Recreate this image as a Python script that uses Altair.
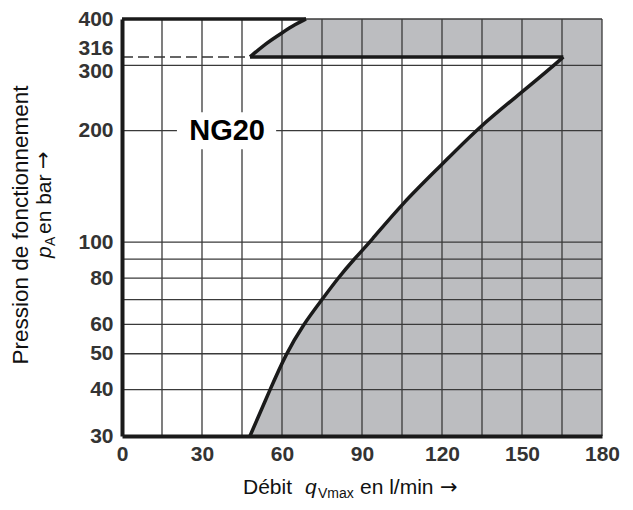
import altair as alt
import pandas as pd

# ---- data ----
q_lower = [48, 55.5, 61.5, 68, 75, 81, 87, 93, 105, 120, 134, 150, 162, 165.5]
p_lower = [30, 40, 50, 60, 70, 80, 90, 100, 127, 162, 205, 254, 300, 316]

q_upper = [48, 54, 60, 65, 69]
p_upper = [316, 344, 367, 387, 400]

q_top = [0, 69]          # thick top edge at 400 bar
p_top = [400, 400]
q_316 = [48, 165.5]      # thick line at 316 bar
q_dash = [0, 48]         # dashed line at 316 bar
p_316 = 316

grid_q = [15, 30, 45, 60, 75, 90, 105, 120, 135, 150, 165, 180]
grid_p = [40, 50, 60, 70, 80, 90, 100, 200, 300, 400]
x_ticks = [0, 30, 60, 90, 120, 150, 180]
y_ticks = [30, 40, 50, 60, 80, 100, 200, 300, 316, 400]

label_text = "NG20"
label_q, label_p = 39.4, 200
box_q = [20.6, 57.8]
box_p = [178, 224]

# ---- styling ----
TICK_FONT = "Liberation Sans, Arial, sans-serif"
TITLE_FONT = "Liberation Sans, Arial, sans-serif"
ARROW_FONT = "DejaVu Sans, sans-serif"
INK = "#1a1a1a"
GRID = "#3a3a3a"
FILL = "#bcbdc0"
CURVE = "basis"

xs = alt.Scale(domain=[0, 180], nice=False, zero=False)
ys = alt.Scale(type="log", domain=[30, 400], nice=False)

xaxis = alt.Axis(values=x_ticks, title=None, grid=False, ticks=False,
                 domainColor=INK, domainWidth=4, labelFont=TICK_FONT,
                 labelFontSize=21, labelFontWeight="bold", labelColor="#333333",
                 labelPadding=7, labelFlush=False, labelOverlap=False, zindex=1)
yaxis = alt.Axis(values=y_ticks, title=None, grid=False, ticks=False,
                 domainColor=INK, domainWidth=4, labelFont=TICK_FONT,
                 labelFontSize=21, labelFontWeight="bold", labelColor="#333333",
                 labelPadding=9, labelOverlap=False, zindex=1,
                 labelExpr="'' + datum.value",
                 labelOffset={"expr": "datum.value == 316 ? -8 : (datum.value == 300 ? 6 : 0)"})

X = alt.X("q:Q", scale=xs, axis=xaxis)
Y = alt.Y("p:Q", scale=ys, axis=yaxis)

df_lower = pd.DataFrame({"q": q_lower, "p": p_lower, "i": range(len(q_lower))})
df_upper = pd.DataFrame({"q": q_upper, "p": p_upper, "i": range(len(q_upper))})

area_lower = alt.Chart(df_lower).mark_area(orient="horizontal", interpolate=CURVE,
                                            color=FILL).encode(y=Y, x=X, x2=alt.datum(180))
area_upper = alt.Chart(df_upper).mark_area(orient="horizontal", interpolate=CURVE,
                                            color=FILL).encode(y=Y, x=X, x2=alt.datum(180))

vgrid = alt.Chart(pd.DataFrame({"q": grid_q})).mark_rule(color=GRID, strokeWidth=1.3).encode(x=X)
hgrid = alt.Chart(pd.DataFrame({"p": grid_p})).mark_rule(color=GRID, strokeWidth=1.3).encode(y=Y)

box = alt.Chart(pd.DataFrame({"q": [box_q[0]], "q2": [box_q[1]], "p": [box_p[0]], "p2": [box_p[1]]})
                ).mark_rect(color="white").encode(x=X, x2="q2:Q", y=Y, y2="p2:Q")
label = alt.Chart(pd.DataFrame({"q": [label_q], "p": [label_p], "t": [label_text]})).mark_text(
    font=TITLE_FONT, fontSize=29, fontWeight="bold", color="black", baseline="middle"
).encode(x=X, y=Y, text="t:N")

dash = alt.Chart(pd.DataFrame({"q": q_dash, "p": [p_316] * 2})).mark_line(
    color="#333333", strokeWidth=1.5, strokeDash=[11, 5]).encode(x=X, y=Y)

segs = pd.DataFrame({"q": q_top + q_316, "p": p_top + [p_316] * 2, "s": ["top", "top", "mid", "mid"]})
seg_lines = alt.Chart(segs).mark_line(color=INK, strokeWidth=3.5, strokeCap="butt").encode(
    x=X, y=Y, detail="s:N")

curve_lower = alt.Chart(df_lower).mark_line(color=INK, strokeWidth=3.5, interpolate=CURVE).encode(
    x=X, y=Y, order="i:Q")
curve_upper = alt.Chart(df_upper).mark_line(color=INK, strokeWidth=3.5, interpolate=CURVE).encode(
    x=X, y=Y, order="i:Q")

one = pd.DataFrame({"a": [0]})


def txt(s, x, y, size=21, style="normal", angle=0, align="left", font=TITLE_FONT):
    return alt.Chart(one).mark_text(
        text=s, font=font, fontSize=size, fontStyle=style, angle=angle,
        align=align, baseline="alphabetic", color="#111111"
    ).encode(x=alt.value(x), y=alt.value(y))


titles = [
    txt("Pression de fonctionnement", -94, 206, size=22.5, angle=270, align="center"),
    txt("p", -71, 239, style="italic", angle=270),
    txt("A", -67, 227, size=14, angle=270),
    txt("en bar", -71, 215, angle=270),
    txt("\u2192", -72, 150, angle=270, font=ARROW_FONT),
    txt("Débit", 121, 475),
    txt("q", 183, 475, style="italic"),
    txt("Vmax", 196, 479, size=14),
    txt("en l/min", 238, 475),
    txt("\u2192", 318, 475, font=ARROW_FONT),
]

chart = alt.layer(area_lower, area_upper, vgrid, hgrid, box, label, dash, seg_lines,
                  curve_lower, curve_upper, *titles).properties(
    width=480, height=417, autosize="none",
    padding={"left": 114, "top": 11, "right": 23, "bottom": 66}
).configure_view(stroke=None)

chart.save("out.html", embed_options={"renderer": "svg", "actions": False})
